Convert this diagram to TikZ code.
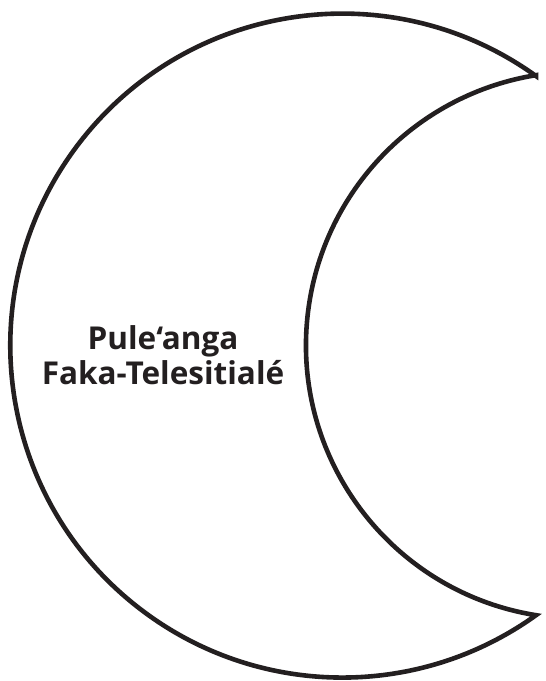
\documentclass[tikz,border=0pt]{standalone}
\usepackage{fontspec}
\setmainfont{Open Sans}
\definecolor{ink}{HTML}{231F20}
\tikzset{
  moon/.style={draw=ink, line width=4.6pt, line join=miter, miter limit=30, fill=white},
  label/.style={text=ink, font=\bfseries\fontsize{31.5}{35}\selectfont, align=center, inner sep=0pt}
}
\begin{document}
\begin{tikzpicture}[x=1pt,y=1pt]
  \useasboundingbox (0,0) rectangle (546,681);
  \coordinate (tipT) at (536,605);
  \coordinate (tipB) at (536,65);
  \draw[moon] (tipT) arc[start angle=54.3, end angle=305.7, radius=332]
                     arc[start angle=260.85, end angle=99.15, radius=273.5] -- cycle;
  \node[label, anchor=base] (t) at (163,296) {Pule‘anga\\Faka-Telesitialé};
\end{tikzpicture}
\end{document}
